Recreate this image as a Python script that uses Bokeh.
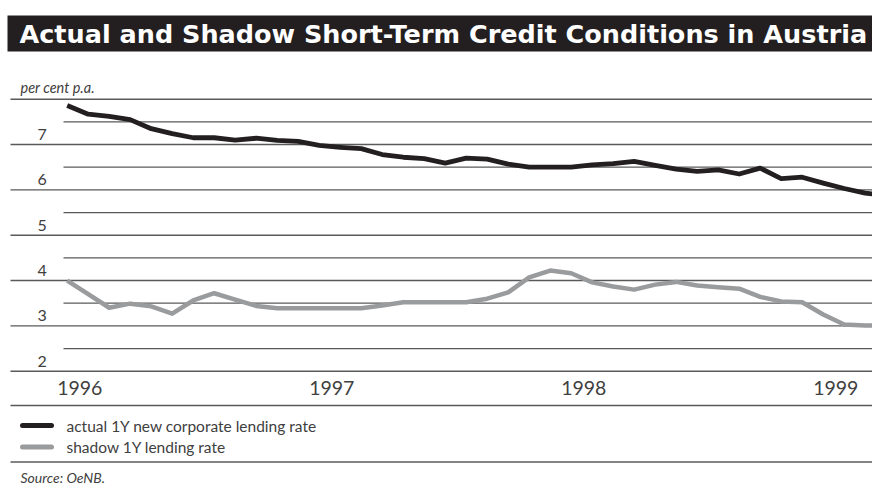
from bokeh.plotting import figure
from bokeh.models import Range1d
from bokeh.core.properties import value
from bokeh.embed import file_html
from bokeh.resources import INLINE

# ---- data: monthly, January 1996 .. April 1999 (per cent p.a.) ----
months = list(range(40))
actual_rate = [7.86, 7.67, 7.62, 7.55, 7.35, 7.24, 7.15, 7.15, 7.10, 7.14, 7.09, 7.07,
               6.98, 6.94, 6.91, 6.78, 6.72, 6.69, 6.59, 6.70, 6.68, 6.57, 6.50, 6.50,
               6.50, 6.55, 6.58, 6.63, 6.54, 6.46, 6.41, 6.44, 6.35, 6.48, 6.25, 6.28,
               6.15, 6.03, 5.93, 5.87]
shadow_rate = [4.00, 3.70, 3.40, 3.49, 3.43, 3.27, 3.56, 3.72, 3.58, 3.44, 3.39, 3.39,
               3.39, 3.39, 3.39, 3.45, 3.52, 3.52, 3.52, 3.52, 3.60, 3.74, 4.07, 4.22,
               4.16, 3.96, 3.87, 3.80, 3.91, 3.97, 3.89, 3.85, 3.82, 3.64, 3.54, 3.52,
               3.25, 3.03, 3.01, 3.01]
year_labels = ["1996", "1997", "1998", "1999"]
year_start_month = [0, 12, 24, 36]
y_ticks = [2, 3, 4, 5, 6, 7]
major_levels = [2, 3, 4, 5, 6, 7, 8]
minor_levels = [2.5, 3.5, 4.5, 5.5, 6.5, 7.5]
series_names = ["actual 1Y new corporate lending rate", "shadow 1Y lending rate"]

TITLE = "Actual and Shadow Short-Term Credit Conditions in Austria"
UNIT = "per cent p.a."
SOURCE = "Source: OeNB."

# ---- layout (the frame spans the whole canvas) ----
W, H = 872, 488
X0, DX = 66.7, 21.0        # pixel of month 0, pixels per month
Y2, DY = 370.7, 45.33      # pixel of 2 %, pixels per percentage point

def sx(px):
    return (px - X0) / DX

def sy(py):
    return 2 + (Y2 - py) / DY

BLACK = "#231f20"
GREY = "#9a9b9d"
RULE = "#5a5a5a"
TEXT = "#404040"
FONT = "Lato"

p = figure(width=W, height=H, output_backend="svg", toolbar_location=None,
           x_range=Range1d(sx(0), sx(W)), y_range=Range1d(sy(H), sy(0)),
           min_border=0, outline_line_color=None)
p.axis.visible = False
p.grid.visible = False
p.background_fill_color = "white"
p.border_fill_color = "white"

# title bar
p.quad(left=[sx(7)], right=[sx(W)], top=[sy(15)], bottom=[sy(51)],
       fill_color=BLACK, line_color=None)
p.text(x=[sx(19)], y=[sy(33.5)], text=[TITLE], text_color="white",
       text_font=value("DejaVu Sans"), text_font_style="bold",
       text_font_size="25.5px", text_baseline="middle", text_align="left")

p.text(x=[sx(20)], y=[sy(87)], text=[UNIT], text_color=TEXT,
       text_font=value(FONT), text_font_style="italic",
       text_font_size="14.5px", text_baseline="middle")

# horizontal rules: whole points span the label column, half points the plot only
p.segment(x0=[sx(10)] * len(major_levels), x1=[sx(W)] * len(major_levels),
          y0=major_levels, y1=major_levels, line_color=RULE, line_width=1.4)
p.segment(x0=[sx(63)] * len(minor_levels), x1=[sx(W)] * len(minor_levels),
          y0=minor_levels, y1=minor_levels, line_color=RULE, line_width=1.2)

# y labels sit in the band just above their rule
p.text(x=[sx(41.7)] * len(y_ticks), y=[v + 0.22 for v in y_ticks],
       text=[str(v) for v in y_ticks], text_color=TEXT, text_font=value(FONT),
       text_font_size="16px", text_baseline="middle", text_align="center")

# year labels
p.text(x=[m + 0.6 for m in year_start_month], y=[sy(387.5)] * len(year_labels),
       text=year_labels, text_color=TEXT, text_font=value(FONT),
       text_font_size="19.5px", text_baseline="middle", text_align="center")

# the two series
p.line(months, shadow_rate, line_color=GREY, line_width=4.5, line_join="round")
p.line(months, actual_rate, line_color=BLACK, line_width=4.8, line_join="round")

# rules framing the legend
for ry in (405, 461.5):
    p.segment(x0=[sx(10)], x1=[sx(W)], y0=[sy(ry)], y1=[sy(ry)],
              line_color=RULE, line_width=1.4)

# legend
for name, col, ry in zip(series_names, [BLACK, GREY], [425, 446.5]):
    p.segment(x0=[sx(22)], x1=[sx(51)], y0=[sy(ry)], y1=[sy(ry)],
              line_color=col, line_width=5, line_cap="round")
    p.text(x=[sx(66)], y=[sy(ry)], text=[name], text_color=TEXT,
           text_font=value(FONT), text_font_size="15.5px",
           text_baseline="middle", text_align="left")

p.text(x=[sx(20)], y=[sy(477)], text=[SOURCE], text_color=TEXT,
       text_font=value(FONT), text_font_style="italic",
       text_font_size="14px", text_baseline="middle")

open("out.html", "w").write(file_html(p, INLINE))
